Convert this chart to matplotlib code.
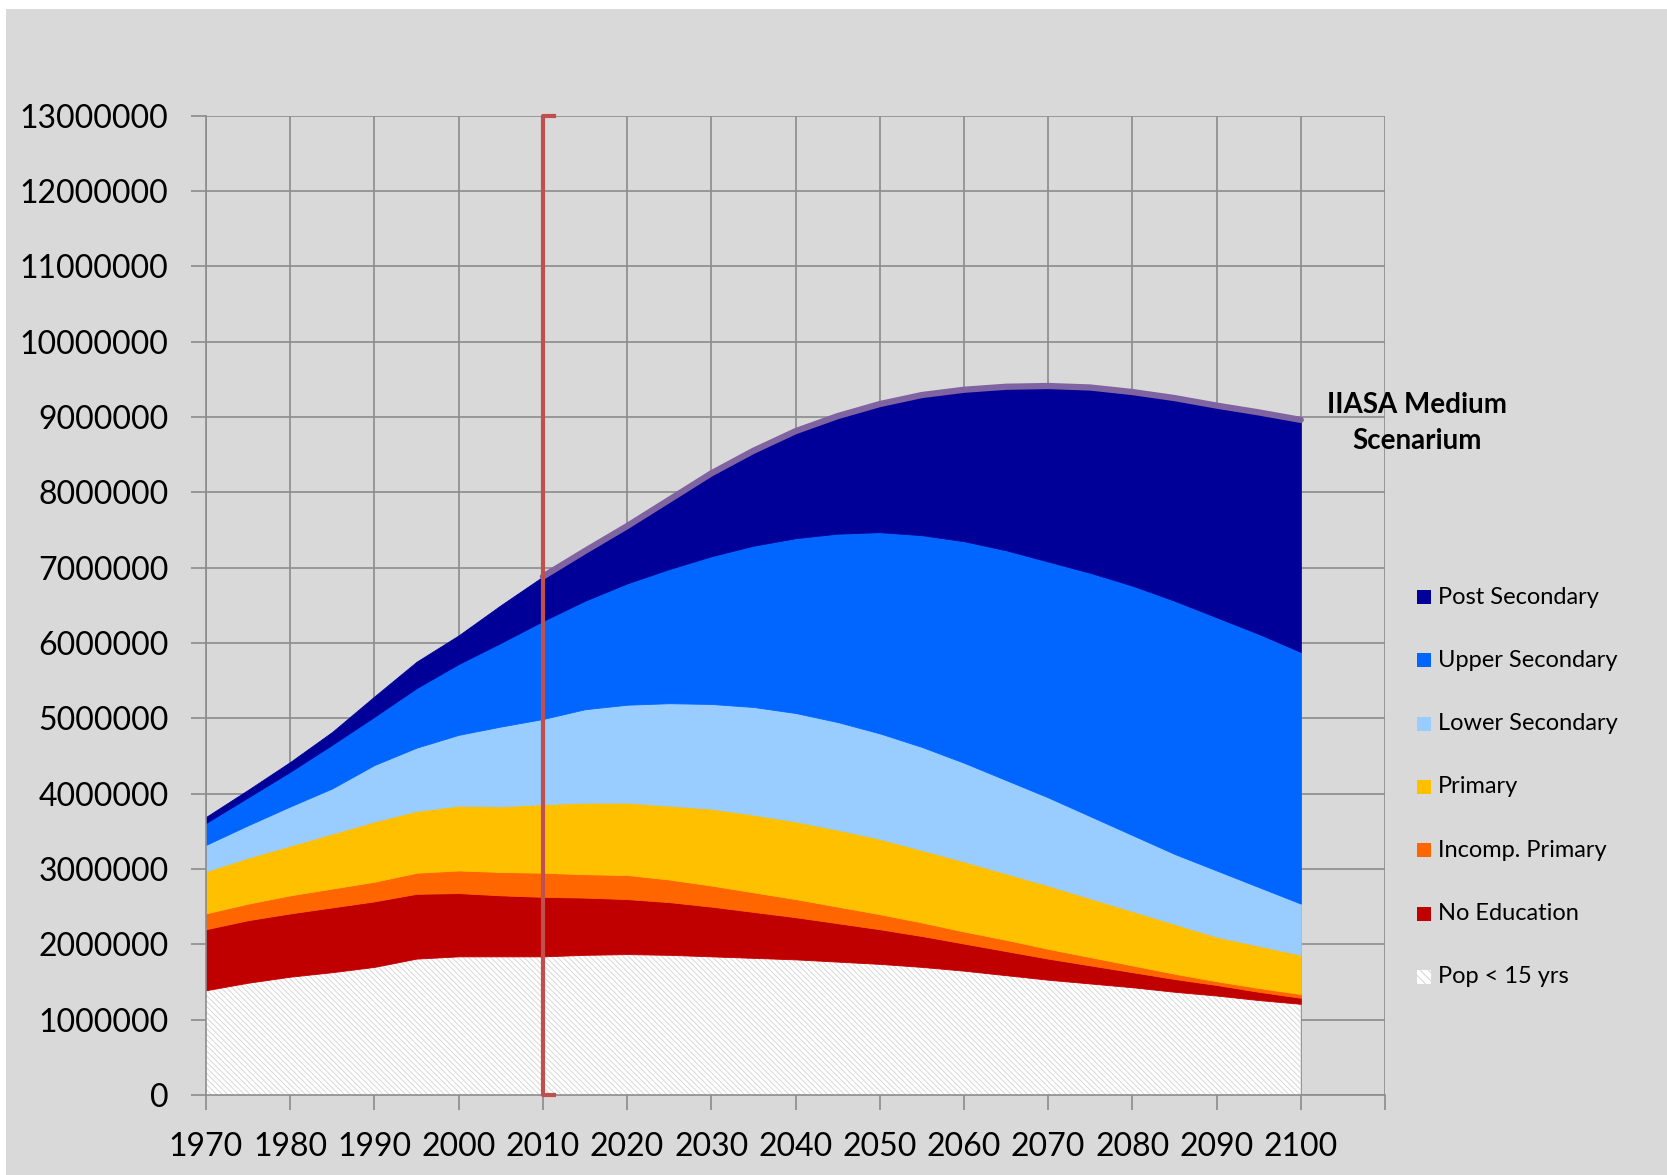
import matplotlib.pyplot as plt
from matplotlib.patches import Rectangle
import numpy as np

plt.rcParams['font.family'] = ['Lato', 'DejaVu Sans']
plt.rcParams['hatch.linewidth'] = 0.6

# population by education level, thousands
years = [1970, 1975, 1980, 1985, 1990, 1995, 2000, 2005, 2010, 2015, 2020, 2025, 2030, 2035,
         2040, 2045, 2050, 2055, 2060, 2065, 2070, 2075, 2080, 2085, 2090, 2095, 2100]
pop_under_15 = [1390, 1490, 1570, 1630, 1700, 1810, 1840, 1840, 1840, 1860, 1870, 1860, 1840, 1820,
                1800, 1770, 1740, 1700, 1650, 1590, 1530, 1480, 1430, 1370, 1320, 1260, 1210]
no_education = [810, 830, 840, 860, 870, 860, 840, 810, 790, 760, 730, 700, 660, 610,
                560, 510, 460, 410, 360, 320, 280, 240, 200, 170, 140, 110, 80]
incomp_primary = [210, 220, 240, 250, 260, 280, 300, 310, 320, 310, 320, 300, 280, 260,
                  240, 220, 200, 180, 160, 150, 130, 110, 90, 70, 50, 50, 50]
primary = [560, 610, 660, 730, 800, 820, 860, 870, 910, 950, 960, 980, 1020, 1030,
           1030, 1020, 1000, 960, 930, 880, 840, 780, 720, 660, 590, 560, 520]
lower_secondary = [350, 430, 520, 600, 750, 840, 940, 1060, 1130, 1240, 1300, 1360, 1390, 1430,
                   1440, 1430, 1400, 1370, 1310, 1240, 1170, 1090, 1010, 930, 880, 780, 680]
upper_secondary = [290, 370, 460, 580, 640, 790, 940, 1110, 1300, 1440, 1610, 1780, 1960, 2140,
                   2320, 2500, 2670, 2810, 2940, 3050, 3130, 3230, 3310, 3360, 3360, 3360, 3340]
post_secondary = [80, 100, 130, 170, 270, 350, 380, 500, 590, 660, 760, 920, 1100, 1260,
                  1420, 1560, 1700, 1860, 2010, 2170, 2330, 2460, 2570, 2690, 2810, 2940, 3080]

labels = ['Pop < 15 yrs', 'No Education', 'Incomp. Primary', 'Primary',
          'Lower Secondary', 'Upper Secondary', 'Post Secondary']
colors = ['#ffffff', '#c00000', '#ff6600', '#ffc000', '#99ccff', '#0066ff', '#000099']
scenario_start = 2010

layers = [np.array(s) * 1000 for s in [pop_under_15, no_education, incomp_primary, primary,
                                       lower_secondary, upper_secondary, post_secondary]]
years = np.array(years)

W, H = 1667, 1175
fig = plt.figure(figsize=(W / 100, H / 100), dpi=100, facecolor='white')
fig.add_artist(Rectangle((6 / W, 0), 1 - 6 / W, 1 - 9 / H, transform=fig.transFigure,
                         facecolor='#d9d9d9', edgecolor='none', zorder=-10))

ax = fig.add_axes([206 / W, 1 - 1095 / H, (1385 - 206) / W, (1095 - 115.5) / H])
ax.set_facecolor('#d9d9d9')

polys = ax.stackplot(years, layers, colors=colors)
for p, c in zip(polys, colors):
    p.set_edgecolor(c)
    p.set_linewidth(0.6)
polys[0].set_hatch('\\\\\\\\\\\\')
polys[0].set_edgecolor('#d2d2d2')
polys[0].set_linewidth(0)

# IIASA scenario line on top of the stack
total = np.sum(layers, axis=0)
m = years >= scenario_start
ax.plot(years[m], total[m], color='#8064a2', lw=4.5, solid_capstyle='round', zorder=5)

# marker at 2010
ax.plot([scenario_start + 1.3, scenario_start, scenario_start, scenario_start + 1.3],
        [13e6, 13e6, 0, 0], color='#c0504d', lw=3, zorder=6, clip_on=False)

ax.set_xlim(1970, 2110)
ax.set_ylim(0, 13e6)
xt = list(range(1970, 2111, 10))
ax.set_xticks(xt)
ax.set_xticklabels([str(x) if x <= 2100 else '' for x in xt])
yt = list(range(0, 13000001, 1000000))
ax.set_yticks(yt)
ax.set_yticklabels([str(v) for v in yt])
ax.set_axisbelow(True)
ax.grid(color='#8c8c8c', lw=1.2)
for s in ['top', 'right']:
    ax.spines[s].set_visible(False)
for s in ['left', 'bottom']:
    ax.spines[s].set_color('#8c8c8c')
    ax.spines[s].set_linewidth(1.2)
ax.tick_params(length=11, width=1.2, color='#8c8c8c', labelsize=23, pad=16, labelcolor='black')

fig.text(1417 / W, 1 - 423 / H, 'IIASA Medium\nScenarium', ha='center', va='center',
         fontsize=20, fontweight='bold', linespacing=1.5)

# legend, top to bottom
for i, (lab, c) in enumerate(zip(labels[::-1], colors[::-1])):
    yc = 597 + i * 63.3
    r = Rectangle((1417 / W, 1 - (yc + 7) / H), 14 / W, 14 / H, transform=fig.transFigure,
                  facecolor=c, edgecolor='none')
    if lab.startswith('Pop'):
        r.set_hatch('\\\\\\\\')
        r.set_edgecolor('#cfcfcf')
        r.set_linewidth(0)
    fig.add_artist(r)
    fig.text(1438 / W, 1 - yc / H, lab, ha='left', va='center', fontsize=17)

fig.savefig('out.png', dpi=100, facecolor=fig.get_facecolor())
